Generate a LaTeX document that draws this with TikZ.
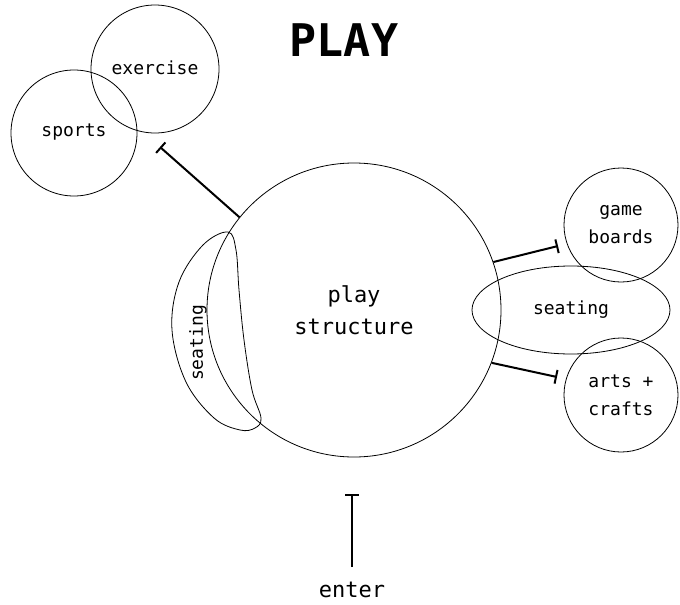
\documentclass[tikz,border=0pt]{standalone}
\usepackage{fontspec}
\newfontfamily\labelfont{DejaVu Sans Mono}
\usetikzlibrary{arrows.meta,shapes.geometric}

\begin{document}
\begin{tikzpicture}[x=1pt,y=-1pt,
  zone/.style={draw, circle, line width=0.8pt, inner sep=0pt},
  word/.style={font=\labelfont\fontsize{18}{28}\selectfont, align=center},
  bigword/.style={font=\labelfont\fontsize{22}{32}\selectfont, align=center},
  tee/.style={line width=2pt, -{Bar[width=14pt,line width=2pt]}}]

\useasboundingbox (0,0) rectangle (680,605);

% title
\node (title) at (344,40) {\labelfont\bfseries\fontsize{45}{45}\selectfont PLAY};

% central structure
\node[zone, minimum size=294pt, bigword] (main) at (354,310) {play\\structure};

% activity circles
\node[zone, minimum size=128pt, word] (exercise) at (155,69) {};
\node[word] (exerciseText) at (155,68) {exercise};
\node[zone, minimum size=126pt, word] (sports) at (74,133) {};
\node[word] (sportsText) at (74,132) {sports};
\node[zone, minimum size=114pt, word] (game) at (621,225) {game\\boards};
\node[zone, minimum size=114pt, word] (arts) at (621,395) {arts +\\crafts};

% seating on the right
\node[draw, ellipse, line width=0.8pt, minimum width=198pt, minimum height=88pt, inner sep=0pt, word] (seatR) at (571,310) {seating};

% seating on the left, a crescent hugging the circle
\draw[line width=0.8pt] plot[smooth cycle, tension=0.6] coordinates {
  (228,232) (236,250) (239,290) (244,340) (252,390) (261,418)
  (255,428) (240,430) (214,418) (186,382) (172,330) (179,282) (203,245)};
\node[word, rotate=90] (seatL) at (198,343) {seating};

% links
\coordinate (teeSports) at (160,147);
\coordinate (teeGame) at (558,246);
\coordinate (teeArts) at (557,377);
\draw[tee] (main.141) -- (teeSports);
\draw[tee] (main.19) -- (teeGame);
\draw[tee] (main.-21) -- (teeArts);

% entrance
\node[bigword] (enter) at (352,590) {enter};
\coordinate (enterBase) at (352,567);
\coordinate (enterTop) at (352,494);
\draw[tee] (enterBase) -- (enterTop);

\end{tikzpicture}
\end{document}
